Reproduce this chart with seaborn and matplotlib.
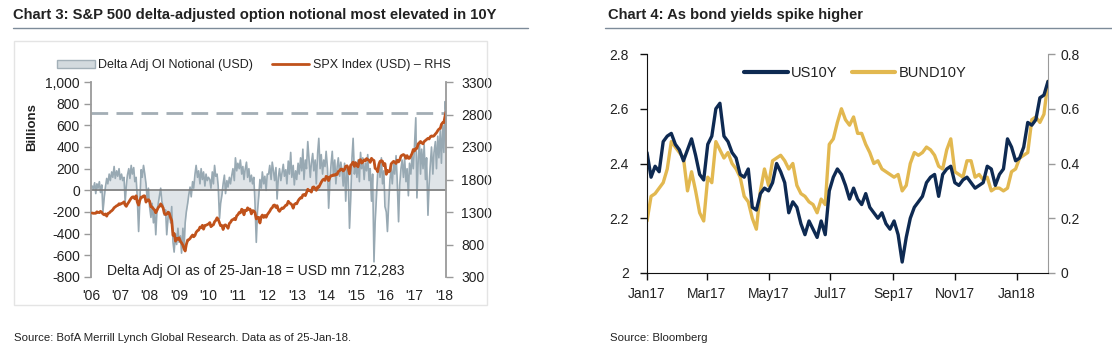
import numpy as np
import pandas as pd
import matplotlib
matplotlib.use("Agg")
import matplotlib.pyplot as plt
from matplotlib.patches import Patch, Rectangle
from matplotlib.lines import Line2D
from matplotlib.ticker import FuncFormatter
import seaborn as sns

sns.set_style("white")
plt.rcParams["font.family"] = ["Liberation Sans", "DejaVu Sans"]

# ---- Chart 3 data: semi-monthly, Jan-2006 .. 25-Jan-2018 ----
spx = [
    1285, 1280, 1280, 1281, 1303, 1295, 1290, 1311, 1294, 1270, 1256, 1270, 1236, 1277, 1285, 1304, 1319, 1336, 1366, 1378, 1396, 1401, 1427, 1418,
    1431, 1438, 1456, 1407, 1387, 1421, 1452, 1482, 1512, 1531, 1533, 1503, 1549, 1455, 1406, 1474, 1529, 1527, 1548, 1549, 1452, 1481, 1490, 1468,
    1380, 1378, 1349, 1331, 1288, 1323, 1370, 1386, 1425, 1400, 1360, 1280, 1260, 1267, 1298, 1283, 1213, 1166, 940, 969, 852, 896, 880, 903,
    850, 826, 789, 735, 700, 798, 869, 873, 893, 919, 946, 919, 940, 987, 1013, 1021, 1068, 1057, 1096, 1036, 1093, 1096, 1106, 1115,
    1137, 1074, 1094, 1104, 1150, 1169, 1211, 1187, 1136, 1089, 1092, 1031, 1096, 1102, 1079, 1049, 1125, 1141, 1176, 1183, 1199, 1181, 1242, 1258,
    1293, 1286, 1343, 1327, 1257, 1326, 1319, 1364, 1338, 1345, 1271, 1321, 1316, 1292, 1193, 1219, 1216, 1131, 1225, 1253, 1216, 1247, 1219, 1258,
    1289, 1312, 1351, 1366, 1402, 1408, 1370, 1398, 1330, 1310, 1342, 1362, 1356, 1379, 1405, 1407, 1465, 1441, 1428, 1412, 1359, 1416, 1430, 1426,
    1472, 1498, 1520, 1515, 1563, 1569, 1552, 1598, 1650, 1631, 1626, 1606, 1680, 1686, 1661, 1633, 1688, 1682, 1721, 1757, 1791, 1806, 1786, 1848,
    1838, 1783, 1838, 1859, 1858, 1872, 1864, 1884, 1877, 1924, 1936, 1960, 1958, 1931, 1955, 2003, 2011, 1972, 1886, 2018, 2039, 2068, 2002, 2059,
    2019, 1995, 2096, 2105, 2053, 2068, 2102, 2086, 2122, 2107, 2097, 2063, 2126, 2104, 2092, 1972, 1958, 1920, 2033, 2079, 2090, 2080, 2012, 2044,
    1880, 1940, 1917, 1932, 2040, 2060, 2080, 2065, 2047, 2097, 2071, 2099, 2161, 2174, 2184, 2171, 2125, 2168, 2126, 2126, 2164, 2199, 2262, 2239,
    2275, 2279, 2351, 2364, 2385, 2363, 2349, 2384, 2400, 2412, 2433, 2423, 2459, 2470, 2464, 2472, 2500, 2519, 2553, 2575, 2585, 2648, 2675, 2674,
    2786, 2839,
]

# delta adjusted open interest notional, USD bn
oi = [
    40, 10, 70, -30, 60, 20, 80, -20, 50, -200, -60, 30, 110, 60, 150, 90, 170, 120, 220, 110, 180, 130, 200, 100,
    150, 90, 120, -110, 40, 140, 200, 110, 230, 150, 210, 80, 120, -60, -380, -120, 190, 120, 230, 160, 60, -80, 20, -150,
    -250, -120, -300, -180, -410, -200, -120, -60, 20, -100, -150, -230, -180, -410, -250, -200, -300, -150, -480, -570, -400, -500, -350, -480,
    -420, -580, -350, -540, -300, -200, -120, -40, 30, -60, 80, 20, 150, 230, 120, 180, 60, 200, 100, 170, 40, 150, 90, 120,
    100, 20, 170, 60, 230, 130, 150, 40, -260, -120, -40, 60, 140, -30, 90, 30, 120, 60, 140, 200, 90, 300, 180, 250,
    200, 280, 150, 220, 100, 190, 260, 120, 200, 80, 140, 60, 120, -100, -480, -200, -50, 100, 20, 170, 60, 130, 0, 150,
    150, 230, 100, 260, 180, 90, 210, -80, 120, 200, 90, 160, 240, 130, 190, 60, 270, 150, 350, 120, 230, 50, 180, 100,
    250, 150, 300, 180, 380, 100, 280, 200, 450, 300, 120, 250, 340, 180, 280, 60, 350, 480, 200, 330, 150, 280, 220, 360,
    200, -165, 100, 250, 360, 150, 280, 60, 220, 300, 130, 260, 180, 40, 250, -100, 200, 120, -350, -100, 300, 480, 150, 260,
    120, 280, 80, 350, 200, 300, 100, 250, 180, 330, 90, 200, -100, 150, -660, -300, -50, 150, 250, 120, 300, 60, 180, -150,
    -200, -380, -100, 100, 200, 60, 250, 150, 320, 100, -290, 50, 200, 280, 120, 300, 80, 200, -50, 250, 150, 320, 200, 400,
    670, -70, 300, 450, 150, 380, 200, 420, 100, 300, -230, 50, 250, 400, 150, 350, 450, 200, 500, 300, 550, 250, 600, 350,
    820, 712,
]
oi_latest = 712

dates3 = list(pd.date_range("2006-01-01", "2017-12-31", freq="SMS") + pd.Timedelta(days=14))
dates3 += [pd.Timestamp("2018-01-15"), pd.Timestamp("2018-01-25")]
dates3 = pd.DatetimeIndex(dates3)

# ---- Chart 4 data: every 4 days from 1-Jan-2017 ----
us10y = [
    2.44, 2.35, 2.39, 2.37, 2.48, 2.50, 2.51, 2.47, 2.45, 2.41, 2.45, 2.49, 2.43, 2.36, 2.34, 2.47, 2.50, 2.60, 2.62, 2.50,
    2.48, 2.44, 2.42, 2.36, 2.35, 2.38, 2.24, 2.23, 2.29, 2.31, 2.30, 2.33, 2.40, 2.37, 2.33, 2.22, 2.26, 2.24, 2.18, 2.14,
    2.19, 2.16, 2.13, 2.19, 2.14, 2.30, 2.35, 2.38, 2.36, 2.32, 2.27, 2.31, 2.27, 2.25, 2.29, 2.24, 2.22, 2.20, 2.22, 2.18,
    2.16, 2.19, 2.14, 2.04, 2.13, 2.20, 2.24, 2.26, 2.28, 2.33, 2.35, 2.36, 2.28, 2.36, 2.38, 2.39, 2.33, 2.32, 2.34, 2.35,
    2.33, 2.31, 2.32, 2.33, 2.39, 2.38, 2.32, 2.36, 2.38, 2.49, 2.46, 2.41, 2.42, 2.46, 2.55, 2.54, 2.56, 2.64, 2.65, 2.70,
]
bund10y = [
    0.19, 0.28, 0.29, 0.31, 0.33, 0.38, 0.48, 0.46, 0.44, 0.42, 0.30, 0.37, 0.30, 0.22, 0.19, 0.35, 0.33, 0.48, 0.45, 0.42,
    0.44, 0.40, 0.38, 0.35, 0.28, 0.26, 0.20, 0.16, 0.30, 0.38, 0.32, 0.41, 0.42, 0.43, 0.41, 0.38, 0.40, 0.32, 0.29, 0.28,
    0.26, 0.25, 0.22, 0.27, 0.25, 0.47, 0.49, 0.55, 0.60, 0.56, 0.54, 0.57, 0.51, 0.51, 0.47, 0.44, 0.40, 0.41, 0.38, 0.37,
    0.36, 0.35, 0.36, 0.30, 0.32, 0.40, 0.44, 0.43, 0.44, 0.46, 0.45, 0.43, 0.39, 0.38, 0.45, 0.49, 0.37, 0.36, 0.35, 0.41,
    0.41, 0.35, 0.36, 0.34, 0.35, 0.30, 0.31, 0.31, 0.30, 0.31, 0.37, 0.38, 0.42, 0.43, 0.44, 0.56, 0.57, 0.55, 0.58, 0.70,
]
dates4 = pd.date_range("2017-01-01", periods=len(us10y), freq="4D")

GRAY_LINE = "#98a9b3"
GRAY_FILL = "#dfe4e8"
ORANGE = "#c0521b"
NAVY = "#0e2a52"
GOLD = "#e2b850"
AXGRAY = "#9a9a9a"
TXT = "#222222"

fig = plt.figure(figsize=(11.12, 3.54), dpi=100)
W, H = 1112, 354

def fx(px):
    return px / W

def fy(py):
    return 1 - py / H

# frame around chart 3
fig.patches.append(Rectangle((fx(14), fy(305)), fx(487 - 14), (305 - 41) / H,
                             transform=fig.transFigure, fill=False, edgecolor="#e4e4e4", lw=1))

# titles + underline
fig.text(fx(13), fy(15), "Chart 3: S&P 500 delta-adjusted option notional most elevated in 10Y",
         fontsize=10.6, fontweight="bold", va="center", ha="left", color=TXT)
fig.text(fx(608), fy(15), "Chart 4: As bond yields spike higher",
         fontsize=10.6, fontweight="bold", va="center", ha="left", color=TXT)
fig.add_artist(Line2D([fx(13), fx(528)], [fy(28), fy(28)], color="#7d8b99", lw=1))
fig.add_artist(Line2D([fx(605), fx(1112)], [fy(28), fy(28)], color="#7d8b99", lw=1))

# sources
fig.text(fx(14), fy(338), "Source: BofA Merrill Lynch Global Research. Data as of 25-Jan-18.",
         fontsize=8.2, va="center", ha="left", color=TXT)
fig.text(fx(610), fy(338), "Source: Bloomberg", fontsize=8.2, va="center", ha="left", color=TXT)

# ---------------- Chart 3 ----------------
ax3 = fig.add_axes([fx(91), fy(277), fx(446 - 91), (277 - 82) / H])
ax3.fill_between(dates3, 0, oi, color=GRAY_FILL, lw=0)
sns.lineplot(x=dates3, y=oi, ax=ax3, color=GRAY_LINE, lw=1.2)
ax3.axhline(0, color="#7a7a7a", lw=1.2)
ax3.axhline(oi_latest, color="#a3aeb5", lw=2, ls=(0, (6, 3)))
ax3.set_ylim(-800, 1000)
ax3.set_yticks(np.arange(-800, 1001, 200))
ax3.yaxis.set_major_formatter(FuncFormatter(lambda v, p: f"{int(v):,}"))
ax3.set_xlim(pd.Timestamp("2006-01-01"), pd.Timestamp("2018-01-25"))
years = pd.date_range("2006-01-01", "2018-01-01", freq="YS")
ax3.set_xticks(years)
ax3.set_xticklabels([f"'{d.year % 100:02d}" for d in years])
ax3.set_ylabel("Billions", fontsize=9.5, fontweight="bold", color=TXT)
ax3.yaxis.set_label_coords(-0.15, 0.77)

ax3r = ax3.twinx()
sns.lineplot(x=dates3, y=spx, ax=ax3r, color=ORANGE, lw=2)
ax3r.set_ylim(300, 3300)
ax3r.set_yticks(np.arange(300, 3301, 500))

for a in (ax3, ax3r):
    for s in ("top", "bottom"):
        a.spines[s].set_visible(False)
    a.spines["left"].set_color(AXGRAY)
    a.spines["right"].set_color(AXGRAY)
    a.spines["left"].set_linewidth(1.3)
    a.spines["right"].set_linewidth(1.3)
    a.set_xlabel("")
ax3.spines["right"].set_visible(False)
ax3r.spines["left"].set_visible(False)
ax3.tick_params(axis="y", direction="out", length=5, width=1, color=AXGRAY, labelsize=10, labelcolor=TXT, pad=3, left=True)
ax3.tick_params(axis="x", length=0, labelsize=10, labelcolor=TXT, pad=9)
ax3r.tick_params(axis="y", direction="out", length=5, width=1, color=AXGRAY, labelsize=10, labelcolor=TXT, pad=6, right=True)

ax3.text(0.463, 0.03, "Delta Adj OI as of 25-Jan-18 = USD mn 712,283", transform=ax3.transAxes,
         ha="center", va="center", fontsize=10, color=TXT)

h3 = [Patch(facecolor="#d3dade", edgecolor="#a3b0b8", lw=1),
      Line2D([0], [0], color=ORANGE, lw=2)]
fig.legend(h3, ["Delta Adj OI Notional (USD)", "SPX Index (USD) \u2013 RHS"], loc="center",
           bbox_to_anchor=(fx(254), fy(65)), ncol=2, frameon=False, fontsize=9,
           handlelength=3.0, handleheight=0.6, columnspacing=1.5, handletextpad=0.3, labelcolor=TXT)

# ---------------- Chart 4 ----------------
ax4 = fig.add_axes([fx(647), fy(273), fx(1048 - 647), (273 - 54) / H])
sns.lineplot(x=dates4, y=us10y, ax=ax4, color=NAVY, lw=2.4)
ax4.set_ylim(2.0, 2.8)
ax4.set_yticks([2.0, 2.2, 2.4, 2.6, 2.8])
ax4.set_yticklabels(["2", "2.2", "2.4", "2.6", "2.8"])
ax4.set_xlim(pd.Timestamp("2017-01-01"), dates4[-1])
months = pd.date_range("2017-01-01", "2018-01-01", freq="2MS")
ax4.set_xticks(months)
ax4.set_xticklabels([d.strftime("%b%y") for d in months])

ax4r = ax4.twinx()
sns.lineplot(x=dates4, y=bund10y, ax=ax4r, color=GOLD, lw=2.4)
ax4r.set_ylim(0, 0.8)
ax4r.set_yticks([0, 0.2, 0.4, 0.6, 0.8])
ax4r.set_yticklabels(["0", "0.2", "0.4", "0.6", "0.8"])
ax4.set_zorder(ax4r.get_zorder() + 1)
ax4.patch.set_visible(False)

for a in (ax4, ax4r):
    a.spines["top"].set_visible(False)
    a.set_xlabel("")
    a.set_ylabel("")
ax4.spines["right"].set_visible(False)
ax4r.spines["left"].set_visible(False)
ax4r.spines["bottom"].set_visible(False)
ax4.spines["left"].set_color("#111111")
ax4.spines["bottom"].set_color("#111111")
ax4r.spines["right"].set_color(AXGRAY)
ax4.tick_params(axis="y", direction="out", length=5, width=1, color="#111111", labelsize=10, labelcolor=TXT, pad=8, left=True)
ax4.tick_params(axis="x", direction="out", length=5, width=1, color="#111111", labelsize=10, labelcolor=TXT, pad=5, bottom=True)
ax4r.tick_params(axis="y", direction="out", length=5, width=1, color=AXGRAY, labelsize=10, labelcolor=TXT, pad=4, right=True)

h4 = [Line2D([0], [0], color=NAVY, lw=3), Line2D([0], [0], color=GOLD, lw=3)]
fig.legend(h4, ["US10Y", "BUND10Y"], loc="center", bbox_to_anchor=(fx(855), fy(73)), ncol=2,
           frameon=False, fontsize=10.5, handlelength=3.0, columnspacing=1.0, handletextpad=0.2, labelcolor=TXT)

fig.savefig("out.png", dpi=100)
